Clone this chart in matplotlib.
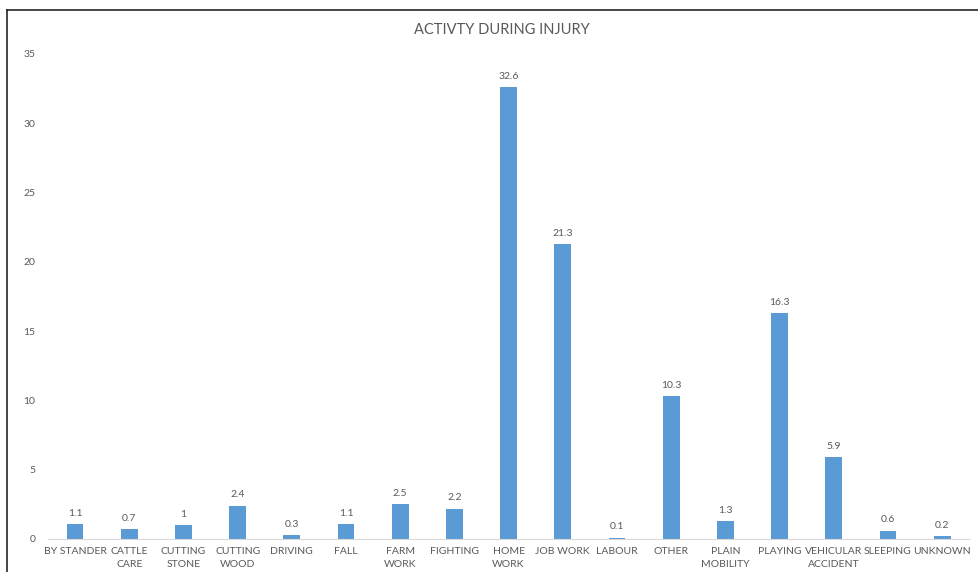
import matplotlib.pyplot as plt
from matplotlib.lines import Line2D

categories = ["BY STANDER", "CATTLE\nCARE", "CUTTING\nSTONE", "CUTTING\nWOOD",
              "DRIVING", "FALL", "FARM\nWORK", "FIGHTING", "HOME\nWORK",
              "JOB WORK", "LABOUR", "OTHER", "PLAIN\nMOBILITY", "PLAYING",
              "VEHICULAR\nACCIDENT", "SLEEPING", "UNKNOWN"]
values = [1.1, 0.7, 1, 2.4, 0.3, 1.1, 2.5, 2.2, 32.6, 21.3, 0.1, 10.3,
          1.3, 16.3, 5.9, 0.6, 0.2]
yticks = [0, 5, 10, 15, 20, 25, 30, 35]

plt.rcParams['font.family'] = ['Lato', 'DejaVu Sans']
txt = '#595959'

fig = plt.figure(figsize=(9.79, 5.72), dpi=100)
ax = fig.add_axes([0.049, 0.0577, 0.941, 0.848])

x = list(range(len(categories)))
bars = ax.bar(x, values, width=0.31, color='#5B9BD5')
for b, v in zip(bars, values):
    ax.text(b.get_x() + b.get_width() / 2, v + 0.45, f"{v:g}",
            ha='center', va='bottom', fontsize=7.5, color=txt)

ax.set_xlim(-0.5, len(categories) - 0.5)
ax.set_ylim(0, 35)
ax.set_yticks(yticks)
ax.set_xticks(x)
ax.set_xticklabels(categories, fontsize=7.5, color=txt, linespacing=1.55)
ax.tick_params(axis='y', labelsize=7.5, labelcolor=txt, length=0, pad=9)
ax.tick_params(axis='x', length=0, pad=6)
for s in ['top', 'right', 'left']:
    ax.spines[s].set_visible(False)
ax.spines['bottom'].set_color('#D9D9D9')

fig.text(0.513, 0.947, "ACTIVTY DURING INJURY", ha='center', va='center',
         fontsize=10.5, color=txt)

# chart frame (top and left edges)
fig.add_artist(Line2D([7 / 979, 1], [1 - 10 / 572, 1 - 10 / 572],
                      transform=fig.transFigure, color='#262626', lw=1.2))
fig.add_artist(Line2D([7 / 979, 7 / 979], [0, 1 - 10 / 572],
                      transform=fig.transFigure, color='#262626', lw=1.2))

fig.savefig('out.png', dpi=100)
